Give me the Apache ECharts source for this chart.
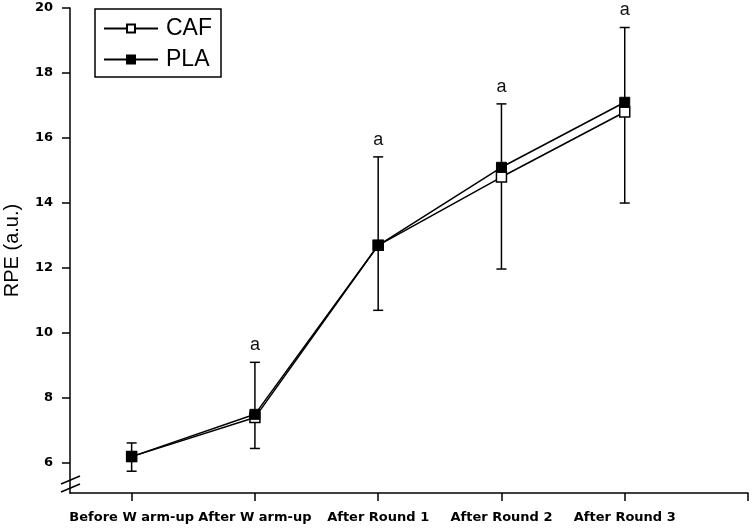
<!DOCTYPE html>
<html>
<head>
<meta charset="utf-8">
<script src="https://cdn.jsdelivr.net/npm/echarts@6/dist/echarts.min.js"></script>
<style>
html,body{margin:0;padding:0;background:#fff}
#chart{width:754px;height:529px}
</style>
</head>
<body>
<div id="chart"></div>
<script>
var timePoints = ['Before W arm-up', 'After W arm-up', 'After Round 1', 'After Round 2', 'After Round 3'];
var cafMean = [6.2, 7.4, 12.7, 14.8, 16.8];
var plaMean = [6.2, 7.5, 12.7, 15.1, 17.1];
var errLow = [5.75, 6.45, 10.7, 11.97, 14.0];
var errHigh = [6.62, 9.1, 15.42, 17.05, 19.4];
var sigMarks = ['', 'a', 'a', 'a', 'a'];
var yTicks = [6, 8, 10, 12, 14, 16, 18, 20];
var xTicks = [1, 2, 3, 4, 5, 6];

var font = 'Arial, "Liberation Sans", sans-serif';
var tickFont = '"DejaVu Sans", Arial, sans-serif';

function pairs(vals){
	var out = [];
	for(var i=0;i<vals.length;i++){
		out.push([i+1, vals[i]]);
	}
	return out;
}

var errData = [];
for(var i=0;i<timePoints.length;i++){
	errData.push([i+1, errLow[i], errHigh[i]]);
}

var chart = echarts.init(document.getElementById('chart'));
var option = {
	animation: false,
	grid: {left: 70, right: 6, top: 8, bottom: 36, containLabel: false, outerBoundsMode: 'none'},
	legend: {
		data: ['CAF', 'PLA'],
		orient: 'vertical',
		left: 95,
		top: 9,
		padding: [8, 9, 6, 8],
		itemGap: 8,
		itemWidth: 54,
		itemHeight: 10,
		borderColor: '#000',
		borderWidth: 1.5,
		textStyle: {fontFamily: font, fontSize: 23, color: '#000', padding: [0, 0, 0, 3]}
	},
	xAxis: {
		type: 'value',
		min: 0.5,
		max: 6,
		splitLine: {show: false},
		axisLine: {lineStyle: {color: '#000', width: 1.5}},
		axisTick: {length: 8, lineStyle: {color: '#000', width: 1.5}, customValues: xTicks},
		axisLabel: {
			customValues: [1, 2, 3, 4, 5],
			margin: 18,
			fontFamily: tickFont,
			fontSize: 13,
			fontWeight: 'bold',
			color: '#000',
			formatter: function(v){ return timePoints[Math.round(v)-1] || ''; }
		}
	},
	yAxis: {
		type: 'value',
		min: 5.08,
		max: 20,
		name: 'RPE (a.u.)',
		nameLocation: 'middle',
		nameGap: 48,
		nameTextStyle: {fontFamily: font, fontSize: 20, color: '#000'},
		splitLine: {show: false},
		axisLine: {show: true, lineStyle: {color: '#000', width: 1.5}},
		axisTick: {show: true, length: 8, lineStyle: {color: '#000', width: 1.5}, customValues: yTicks},
		axisLabel: {
			customValues: yTicks,
			margin: 17,
			fontFamily: tickFont,
			fontSize: 13,
			fontWeight: 'bold',
			color: '#000'
		}
	},
	graphic: [
		{type: 'line', shape: {x1: 61, y1: 484, x2: 80, y2: 476}, style: {stroke: '#000', lineWidth: 1.5}},
		{type: 'line', shape: {x1: 61, y1: 492, x2: 80, y2: 484}, style: {stroke: '#000', lineWidth: 1.5}}
	],
	series: [
		{
			name: 'errors',
			type: 'custom',
			z: 1,
			data: errData,
			renderItem: function(params, api){
				var x = api.value(0);
				var pLo = api.coord([x, api.value(1)]);
				var pHi = api.coord([x, api.value(2)]);
				var cap = 5;
				var st = {stroke: '#000', lineWidth: 1.5};
				var kids = [
					{type: 'line', shape: {x1: pLo[0], y1: pLo[1], x2: pHi[0], y2: pHi[1]}, style: st},
					{type: 'line', shape: {x1: pLo[0]-cap, y1: pLo[1], x2: pLo[0]+cap, y2: pLo[1]}, style: st},
					{type: 'line', shape: {x1: pHi[0]-cap, y1: pHi[1], x2: pHi[0]+cap, y2: pHi[1]}, style: st}
				];
				var s = sigMarks[params.dataIndex];
				if(s){
					kids.push({type: 'text', x: pHi[0], y: pHi[1]-8,
						style: {text: s, fill: '#111', font: '18px ' + font, align: 'center', verticalAlign: 'bottom'}});
				}
				return {type: 'group', children: kids};
			}
		},
		{
			name: 'CAF',
			type: 'line',
			z: 3,
			data: pairs(cafMean),
			symbol: 'rect',
			symbolSize: 10,
			lineStyle: {color: '#000', width: 1.5},
			itemStyle: {color: '#fff', borderColor: '#000', borderWidth: 1.5}
		},
		{
			name: 'PLA',
			type: 'line',
			z: 4,
			data: pairs(plaMean),
			symbol: 'rect',
			symbolSize: 10,
			lineStyle: {color: '#000', width: 1.5},
			itemStyle: {color: '#000', borderColor: '#000', borderWidth: 1}
		}
	]
};
chart.setOption(option);
</script>
</body>
</html>
